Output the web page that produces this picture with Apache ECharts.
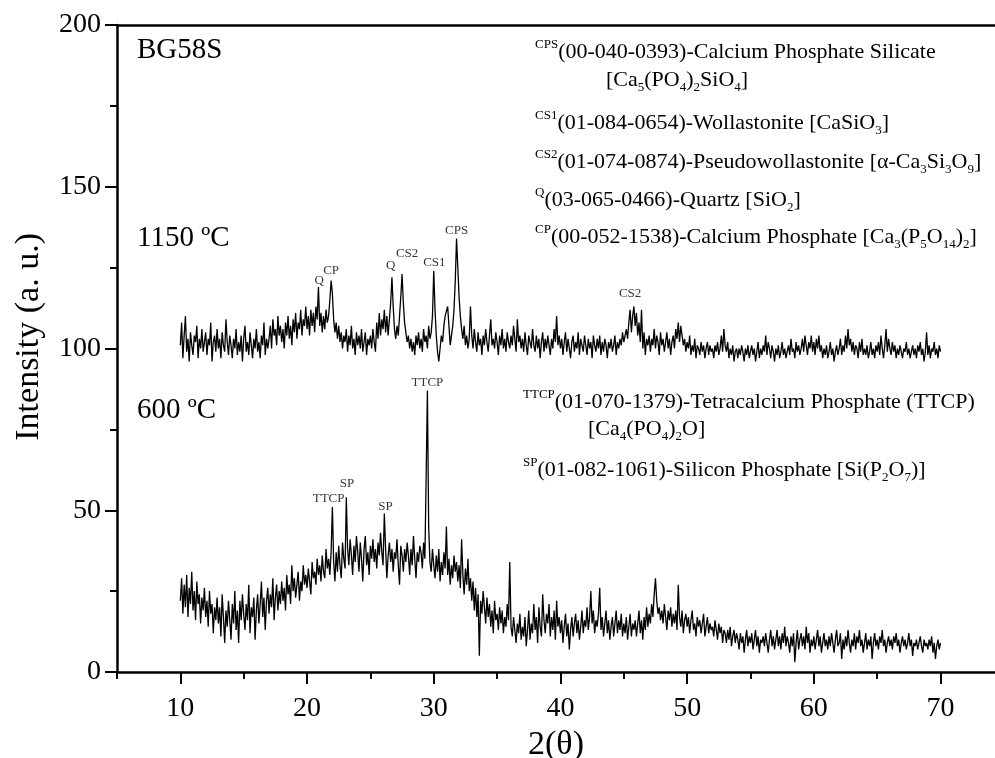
<!DOCTYPE html>
<html><head><meta charset="utf-8">
<script src="https://cdn.jsdelivr.net/npm/echarts@6/dist/echarts.min.js"></script>
<style>html,body{margin:0;padding:0;background:#fff}#c{width:995px;height:758px}</style>
</head><body><div id="c"></div>
<script>
const angleStart = 10, angleStep = 0.1;
const intensity1150 = [
101,108,97,104,110,99,103,96,105,101,
98,104,102,107,97,103,100,106,99,102,
105,98,103,101,108,96,102,104,99,106,
100,103,97,105,101,99,109,102,98,104,
101,97,103,100,106,98,102,99,104,96,
103,107,99,102,98,105,101,97,103,100,
106,99,102,97,104,101,108,98,103,100,
103,107,100,109,104,106,101,110,104,107,
102,106,100,108,104,110,103,107,101,109,
105,111,103,108,106,112,104,109,107,113,
106,110,104,112,107,111,105,113,109,119,
107,111,105,110,106,112,108,110,115,121,
117,109,105,108,103,107,102,105,100,104,
102,106,99,104,101,107,100,103,98,105,
101,104,100,106,99,102,105,98,103,101,
104,100,106,102,99,108,103,111,104,109,
106,112,105,110,104,109,114,122,113,106,
103,107,104,110,116,123,114,108,105,102,
104,100,103,99,102,98,104,101,105,100,
103,99,106,102,104,100,107,103,105,110,
124,112,104,99,96,100,104,102,107,110,
110,113,107,101,104,107,112,121,134,125,
116,110,106,103,107,101,104,100,103,113,
104,100,106,102,99,105,101,103,98,104,
101,106,102,99,104,109,101,103,100,105,
102,98,104,101,106,100,103,99,105,102,
100,104,101,107,103,99,109,102,104,100,
103,99,105,101,98,104,102,100,106,101,
99,104,100,103,97,102,105,99,103,100,
104,101,98,103,100,106,102,110,101,104,
100,103,98,102,105,99,103,100,97,102,
104,99,102,100,105,98,103,101,99,104,
101,98,103,100,102,97,104,101,99,103,
100,104,98,102,99,103,101,97,102,100,
103,99,101,104,98,102,100,103,101,105,
102,104,106,103,108,112,105,110,113,107,
111,104,108,102,112,100,105,98,103,101,
104,99,103,101,106,100,104,102,98,105,
101,103,99,102,105,100,103,98,102,104,
100,106,103,108,102,107,104,101,103,99,
102,100,104,98,101,99,103,97,101,100,
98,102,99,101,97,100,102,98,101,99,
100,97,101,99,102,98,100,104,99,106,
101,99,102,97,100,98,101,96,99,100,
97,100,98,101,99,96,100,98,101,97,
99,101,98,100,96,99,102,97,100,98,
101,99,104,98,102,100,97,101,99,96,
100,98,101,97,99,102,98,100,97,99,
101,98,103,99,100,97,102,99,101,98,
100,103,99,104,101,98,102,100,104,99,
102,98,103,100,104,99,101,97,100,98,
101,97,99,102,98,100,96,99,101,98,
100,103,98,101,99,104,100,106,101,103,
99,102,98,101,100,97,102,99,103,98,
100,98,101,97,99,102,98,100,97,101,
99,102,98,104,100,97,101,106,99,103,
100,98,102,99,101,97,100,98,101,99,
97,100,99,102,98,100,97,99,101,98,
100,97,101,99,102,98,100,96,99,105,
98,101,97,100,99,102,98,100,97,101,
99];
const intensity600 = [
22,29,18,27,20,30,17,26,21,31,
19,25,16,28,21,24,15,23,19,26,
17,22,14,25,18,21,12,20,16,23,
15,20,11,24,17,9,19,14,22,16,
10,21,15,25,13,19,9,22,16,24,
18,13,21,16,27,12,20,17,23,10,
19,24,15,21,28,17,23,13,22,26,
18,24,20,29,16,23,27,19,25,21,
28,22,26,19,30,24,27,21,33,25,
29,23,27,31,22,28,25,33,27,30,
26,32,28,24,34,29,31,27,35,30,
33,28,36,31,29,38,32,35,30,37,
51,34,28,37,31,39,33,29,40,35,
32,54,38,33,41,36,30,39,34,42,
37,31,40,35,28,38,42,33,37,30,
39,35,41,34,38,32,40,36,43,37,
33,49,38,29,36,40,34,38,31,37,
35,41,33,27,39,36,31,38,34,40,
36,30,38,33,42,35,29,37,34,39,
37,32,40,35,60,87,45,34,31,38,
33,29,36,31,38,28,34,30,37,32,
45,30,35,27,33,29,36,31,34,28,
33,26,41,30,24,32,27,35,25,29,
22,28,19,26,17,24,5,22,18,25,
20,15,23,17,21,14,19,12,22,16,
18,13,20,15,19,12,17,14,21,16,
34,14,11,17,13,9,15,12,18,10,
14,11,17,8,13,19,10,15,12,21,
13,17,9,20,14,11,24,16,12,18,
15,21,11,17,13,19,10,22,14,17,
12,16,9,14,18,11,15,7,13,17,
11,15,18,12,16,10,14,19,12,16,
14,20,13,17,25,15,19,12,16,14,
18,26,13,17,11,15,19,12,16,10,
14,17,11,15,19,12,16,13,18,11,
15,12,17,10,14,18,11,15,13,16,
11,15,19,12,16,10,17,13,20,14,
18,15,21,17,24,29,22,18,20,16,
19,15,21,17,13,19,16,20,14,18,
15,19,13,27,17,14,19,12,16,18,
14,17,12,16,19,13,15,11,17,14,
16,12,15,18,11,14,17,12,15,13,
14,11,16,13,10,15,12,14,9,13,
12,9,13,10,14,8,11,13,9,12,
10,7,12,9,11,6,10,13,8,11,
9,12,7,10,13,8,11,6,10,9,
11,8,12,9,6,10,13,8,11,7,
10,13,8,11,7,12,9,14,8,11,
9,6,11,8,12,3,9,13,7,10,
12,8,11,7,14,9,12,6,10,8,
11,7,10,13,8,11,6,9,12,8,
10,7,11,8,12,9,6,10,13,8,
9,12,4,10,7,11,8,13,9,6,
10,8,12,7,11,9,13,8,10,6,
9,12,7,10,8,11,4,9,12,8,
10,7,11,9,13,8,10,6,9,11,
8,10,7,11,9,12,8,10,6,9,
11,8,10,7,9,12,8,10,5,9,
8,10,7,9,11,8,6,10,8,9,
7,10,8,11,6,9,4,8,10,7,
9];
const xMajorTicks = [10,20,30,40,50,60,70];
const xMinorTicks = [5,15,25,35,45,55,65];
const yMajorTicks = [0,50,100,150,200];
const yMinorTicks = [25,75,125,175];
const peakLabels1150 = [['Q',20.95,121],['CP',21.9,124.2],['Q',26.6,125.7],['CS2',27.9,129.4],['CS1',30.05,126.6],['CPS',31.8,136.3],['CS2',45.5,117]];
const peakLabels600 = [['TTCP',29.5,89.6],['TTCP',21.7,53.7],['SP',23.15,58.3],['SP',26.2,51]];

const FONT = "'Liberation Serif','Times New Roman',serif";
function toPairs(arr){ return arr.map((v,i)=>[+(angleStart+i*angleStep).toFixed(2), v]); }

const chart = echarts.init(document.getElementById('c'), null, {renderer:'canvas'});
const axisLineStyle = {color:'#000', width:2.5};
const rich = {
  m:{fontSize:22, fontFamily:FONT, color:'#000', lineHeight:28},
  p:{fontSize:13, fontFamily:FONT, color:'#000', verticalAlign:'top', lineHeight:12},
  b:{fontSize:13, fontFamily:FONT, color:'#000', verticalAlign:'bottom', lineHeight:12}
};
function legendLine(x, y, text){
  return {type:'text', left:x, top:y-14, silent:true, style:{text:text, rich:rich, fill:'#000', font:'22px '+FONT}};
}
const labelText = (x,y,t,size)=>({type:'text', left:x, top:y-size/2-2, silent:true, style:{text:t, fill:'#000', font:size+'px '+FONT}});
const X_MAX = 74.3;

chart.setOption({
  animation:false,
  backgroundColor:'#fff',
  grid:{left:117, top:25, width:878, height:647, containLabel:false, outerBoundsMode:'none'},
  xAxis:[
    {type:'value', min:5, max:X_MAX, position:'bottom',
     axisLine:{show:true, lineStyle:axisLineStyle},
     axisTick:{show:true, customValues:xMajorTicks, length:12, lineStyle:{color:'#000', width:2}},
     axisLabel:{show:true, customValues:xMajorTicks, margin:23, fontSize:28, fontFamily:FONT, color:'#000'},
     splitLine:{show:false},
     name:'2(θ)', nameLocation:'middle', nameGap:53, nameTextStyle:{fontSize:34, fontFamily:FONT, color:'#000'}},
    {type:'value', min:5, max:X_MAX, position:'bottom',
     axisLine:{show:false}, axisLabel:{show:false}, splitLine:{show:false},
     axisTick:{show:true, customValues:xMinorTicks, length:7, lineStyle:{color:'#000', width:2}}},
    {type:'value', min:5, max:X_MAX, position:'top',
     axisLine:{show:true, lineStyle:axisLineStyle}, axisLabel:{show:false}, axisTick:{show:false}, splitLine:{show:false}}
  ],
  yAxis:[
    {type:'value', min:0, max:200, position:'left',
     axisLine:{show:true, lineStyle:axisLineStyle},
     axisTick:{show:true, customValues:yMajorTicks, length:12, lineStyle:{color:'#000', width:2}},
     axisLabel:{show:true, customValues:yMajorTicks, margin:16, fontSize:28, fontFamily:FONT, color:'#000'},
     splitLine:{show:false}},
    {type:'value', min:0, max:200, position:'left',
     axisLine:{show:false}, axisLabel:{show:false}, splitLine:{show:false},
     axisTick:{show:true, customValues:yMinorTicks, length:7, lineStyle:{color:'#000', width:2}}}
  ],
  series:[
    {type:'line', name:'1150', data:toPairs(intensity1150), showSymbol:false, symbol:'none',
     lineStyle:{color:'#000', width:1.3}, itemStyle:{color:'#000'}},
    {type:'line', name:'600', data:toPairs(intensity600), showSymbol:false, symbol:'none',
     lineStyle:{color:'#000', width:1.3}, itemStyle:{color:'#000'}},
    {type:'scatter', data:peakLabels1150.map(p=>[p[1],p[2],p[0]]), symbolSize:1, itemStyle:{color:'rgba(0,0,0,0)'},
     label:{show:true, position:'inside', formatter:p=>p.data[2], fontSize:13, fontFamily:FONT, color:'#000'}},
    {type:'scatter', data:peakLabels600.map(p=>[p[1],p[2],p[0]]), symbolSize:1, itemStyle:{color:'rgba(0,0,0,0)'},
     label:{show:true, position:'inside', formatter:p=>p.data[2], fontSize:13, fontFamily:FONT, color:'#000'}}
  ],
  graphic:[
    {type:'text', left:12, top:233, rotation:Math.PI/2, silent:true,
     style:{text:'Intensity (a. u.)', fill:'#000', font:'34px '+FONT}},
    labelText(137,52,'BG58S',29),
    labelText(137,240,'1150 ºC',29),
    labelText(137,412,'600 ºC',29),
    legendLine(535,52,'{p|CPS}{m|(00-040-0393)-Calcium Phosphate Silicate}'),
    legendLine(606,83,'{m|[Ca}{b|5}{m|(PO}{b|4}{m|)}{b|2}{m|SiO}{b|4}{m|]}'),
    legendLine(535,123,'{p|CS1}{m|(01-084-0654)-Wollastonite [CaSiO}{b|3}{m|]}'),
    legendLine(535,162,'{p|CS2}{m|(01-074-0874)-Pseudowollastonite [α-Ca}{b|3}{m|Si}{b|3}{m|O}{b|9}{m|]}'),
    legendLine(535,200,'{p|Q}{m|(03-065-0466)-Quartz [SiO}{b|2}{m|]}'),
    legendLine(535,237,'{p|CP}{m|(00-052-1538)-Calcium Phosphate [Ca}{b|3}{m|(P}{b|5}{m|O}{b|14}{m|)}{b|2}{m|]}'),
    legendLine(523,402,'{p|TTCP}{m|(01-070-1379)-Tetracalcium Phosphate (TTCP)}'),
    legendLine(588,432,'{m|[Ca}{b|4}{m|(PO}{b|4}{m|)}{b|2}{m|O]}'),
    legendLine(523,470,'{p|SP}{m|(01-082-1061)-Silicon Phosphate [Si(P}{b|2}{m|O}{b|7}{m|)]}')
  ]
});
</script></body></html>
